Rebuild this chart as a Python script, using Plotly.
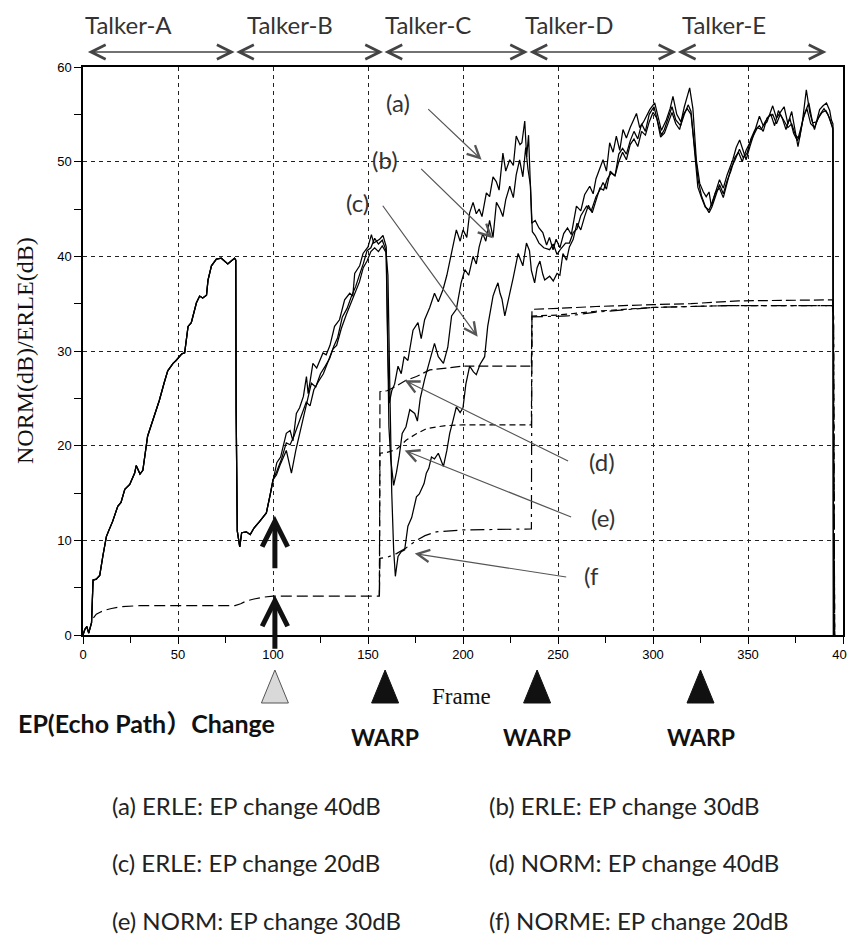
import plotly.graph_objects as go

# ERLE before the echo path change, shared by all three runs: (frame, dB)
erle_common = [(0, 0), (1, 0.6), (2, 0.9), (3, 0.2), (4.5, 1.3), (5.3, 5.8), (7, 5.9), (8.8, 6.3),
               (10.5, 8.4), (12.3, 10.4), (13.5, 11.0), (15.6, 12.0), (18.3, 13.6), (20, 14.0),
               (22, 15.4), (24.6, 15.9), (27.2, 17.1), (28, 17.9), (30, 17.0), (31.5, 17.4),
               (34, 21.0), (35.8, 22.1), (38.4, 23.9), (40.2, 24.8), (42.8, 26.7), (44.6, 27.9),
               (46, 28.3), (47.4, 28.7), (49, 29.0), (52, 29.7), (53.5, 29.8), (55.3, 32.6),
               (57, 33.0), (59.7, 35.1), (61.4, 35.8), (63, 35.6), (65, 35.9), (65.8, 37.5),
               (67.6, 39.0), (70.2, 39.7), (72.8, 39.8), (74.5, 39.5), (76.2, 39.2), (78, 39.5),
               (79.8, 39.8), (80.4, 39.6), (80.6, 23.8), (81.2, 11.0), (82.5, 9.3), (83.5, 10.8),
               (86, 10.9), (88, 10.6), (90, 11.3), (93, 12.0), (96.5, 12.9), (98.5, 14.8), (100, 16.4)]

# (a) ERLE, EP change 40dB
erle_a = [(102, 18.2), (104, 18.8), (107, 21.3), (109, 21.6), (110.5, 20.5), (112.3, 23.4), (114, 24.0),
          (116, 25.2), (117.6, 27.3), (118.5, 25.5), (121, 28.7), (123, 28.2), (126.3, 29.8), (128, 29.6),
          (130, 30.6), (132.4, 32.6), (135, 33.3), (137.7, 35.4), (140.4, 36.1), (142, 35.8), (143, 38.2),
          (145.6, 39.0), (147.4, 40.3), (150, 41.0), (151.8, 42.3), (153, 41.4), (154.4, 41.6),
          (156.1, 41.8), (157.9, 42.2), (159.6, 41.0), (160.4, 30.0), (161.2, 24.5), (162.5, 25.8),
          (164, 26.5), (165.8, 28.4), (167.5, 27.6), (169, 29.4), (171, 29.0), (173.7, 32.2),
          (176.3, 33.0), (178, 31.3), (179.8, 33.3), (182.5, 34.6), (185, 36.1), (187, 35.2),
          (189.5, 36.5), (191.5, 38.0), (193.9, 40.4), (196.5, 42.8), (198.5, 41.6), (200, 42.8),
          (202, 42.0), (203.5, 44.6), (205.3, 45.7), (207, 44.5), (208.5, 45.0), (210, 44.2),
          (212.3, 46.7), (214, 46.3), (215.8, 48.4), (217.5, 47.9), (219, 47.0), (221, 50.9),
          (222.5, 49.0), (224.6, 50.2), (226.5, 49.6), (228, 52.7), (230, 51.8), (231, 52.0),
          (232.5, 54.3), (233.5, 50.5), (234.5, 52.8), (235.3, 49.0), (236.2, 43.5), (238, 43.8),
          (240, 43.0), (242, 42.5), (244, 41.2), (245.5, 42.0), (247.4, 40.7), (249, 41.8),
          (251, 40.9), (253, 42.4), (255, 43.0), (257, 42.3), (259.7, 45.3), (262, 44.8), (264, 46.5),
          (266.7, 47.4), (268.5, 46.6), (270, 48.2), (272, 49.4), (273.7, 50.2), (275.5, 49.0),
          (277.2, 52.0), (279, 51.0), (280.7, 52.7), (282.5, 51.2), (284.2, 53.4), (286, 52.5),
          (288, 53.6), (291.3, 55.1), (293, 53.6), (295, 54.2), (298.3, 55.5), (300.9, 56.2),
          (302.5, 54.8), (304.4, 53.3), (307, 54.4), (309, 55.6), (310.5, 56.9), (312.5, 55.0),
          (314.7, 54.2), (316.5, 55.8), (319.3, 57.8), (321, 55.6), (322.8, 50.2), (324.6, 47.7),
          (326.5, 46.8), (328, 46.3), (329.5, 46.8), (330.7, 45.3), (332.5, 46.5), (334, 47.5),
          (335, 48.1), (337, 47.2), (339, 48.6), (342, 50.2), (343.8, 51.5), (345.6, 52.3),
          (347.5, 51.0), (349, 50.2), (351, 51.6), (353, 52.8), (356, 54.8), (358, 53.8), (360, 54.2),
          (363, 55.9), (365, 54.6), (367, 55.2), (369, 55.8), (371, 54.0), (373, 55.3), (376.3, 51.6),
          (378.5, 54.0), (380.7, 57.6), (382.5, 55.2), (385, 53.4), (386.5, 54.5), (387.7, 55.5),
          (389.5, 55.9), (391.3, 56.2), (393, 55.4), (393.9, 54.4), (394.7, 54.0), (395, 0)]

# (b) ERLE, EP change 30dB
erle_b = [(101.8, 16.9), (104, 18.1), (107, 19.5), (109.7, 17.1), (112, 19.5), (114, 21.2), (115.8, 22.6),
          (118, 24.6), (120.2, 26.6), (122.5, 26.2), (125, 27.6), (127.5, 28.4), (129.8, 29.2),
          (132, 30.5), (134, 31.4), (136.5, 33.6), (139, 34.5), (141.5, 35.9), (143.5, 36.8),
          (145.6, 38.1), (147.5, 39.2), (149.5, 40.6), (151.5, 40.9), (153.5, 41.9), (155.5, 41.3),
          (157.5, 41.7), (159.5, 40.6), (160.3, 32.0), (161, 22.0), (162, 18.5), (163.5, 15.8),
          (165, 17.2), (166.5, 19.0), (168, 21.3), (170, 22.0), (172, 23.8), (174.6, 23.4), (176, 22.6),
          (177.5, 25.0), (179.8, 27.0), (181.5, 28.2), (183.4, 29.4), (185, 30.8), (187, 29.4),
          (189.7, 28.7), (192, 30.4), (194, 33.7), (196.5, 34.4), (199, 37.2), (201, 38.6), (203, 38.0),
          (205.3, 40.0), (207, 39.2), (208.5, 41.0), (210.4, 42.4), (212, 41.6), (214, 43.8),
          (215.8, 42.0), (217.6, 45.7), (219.5, 45.0), (221, 44.2), (222.5, 46.0), (224.6, 47.4),
          (226.5, 46.2), (228, 48.6), (229.8, 50.2), (231.5, 48.4), (233, 51.5), (234.2, 49.2),
          (235.5, 47.5), (236.5, 42.6), (238, 42.2), (240, 41.4), (242.5, 40.9), (245.6, 40.7),
          (247.5, 41.3), (249.5, 40.2), (251.5, 40.8), (254, 41.4), (256, 41.4), (258, 42.5),
          (260, 42.9), (262, 44.3), (265, 45.3), (267.5, 44.8), (270, 46.3), (272, 47.0), (273.7, 47.8),
          (275.5, 47.1), (277.5, 49.0), (280, 48.5), (282, 50.8), (284, 51.4), (286, 50.8), (288, 52.2),
          (290, 53.2), (292, 52.4), (294, 54.0), (296, 53.2), (298, 55.0), (300.5, 55.8), (302.5, 54.2),
          (304.4, 52.8), (306, 53.4), (308, 54.7), (310, 55.8), (312, 54.4), (314.5, 53.8), (316.5, 55.0),
          (318.5, 56.0), (320, 55.3), (322, 50.8), (323.6, 47.3), (325.5, 46.2), (327.5, 45.2),
          (329.5, 44.9), (331, 45.6), (333, 46.8), (335, 47.2), (337, 46.2), (339, 47.8), (341, 49.3),
          (343, 50.1), (345.5, 51.3), (347.5, 50.4), (349.5, 50.9), (351.5, 52.4), (353.5, 53.3),
          (356, 53.8), (358, 53.2), (360, 54.6), (362, 55.0), (364, 53.8), (366, 55.4), (368, 54.6),
          (370, 53.4), (372, 54.6), (374, 53.0), (376, 52.2), (378, 53.8), (380, 55.2), (382, 56.2),
          (384, 54.1), (386, 54.2), (388, 55.0), (390, 55.6), (392, 55.0), (394, 53.9), (394.7, 53.6),
          (395, 0)]

# (c) ERLE, EP change 20dB
erle_c = [(102, 17.3), (104.5, 18.6), (107, 20.3), (109, 20.1), (111, 21.0), (113, 22.1), (115.5, 23.6),
          (117.5, 24.6), (119.5, 24.2), (121.5, 25.9), (124, 26.8), (126.5, 27.6), (129, 28.9),
          (131.5, 30.2), (133.5, 30.6), (136, 32.4), (138.5, 33.8), (141, 35.1), (143, 36.1),
          (145.5, 37.3), (147.5, 38.8), (149.5, 39.5), (151.5, 40.5), (153.5, 40.9), (155.5, 40.5),
          (157.5, 41.1), (159.5, 40.4), (160.5, 38.0), (161.5, 26.0), (162.5, 15.0), (163.5, 9.0),
          (164.4, 6.2), (165.8, 8.3), (167.5, 8.8), (169.3, 9.0), (171, 11.5), (173, 12.4), (175.5, 14.6),
          (177, 14.9), (178, 15.3), (179.5, 16.0), (180.7, 17.1), (182, 17.6), (183.4, 18.8), (185, 18.6),
          (187, 19.2), (188.5, 18.4), (189.7, 17.8), (191.5, 19.5), (193, 21.3), (194.8, 22.7),
          (196.5, 24.1), (198.5, 23.5), (200, 24.0), (201.5, 26.5), (203.5, 28.4), (205.5, 27.8),
          (207, 27.5), (209, 28.6), (211.4, 29.4), (213, 32.6), (214.5, 34.4), (215.8, 35.8), (217, 36.5),
          (218.4, 37.2), (219.5, 36.1), (220.5, 35.5), (222, 33.7), (223.5, 35.0), (224.6, 36.1),
          (226.5, 37.8), (229, 40.3), (230.5, 39.6), (231.5, 39.0), (233.4, 41.4), (235, 40.6), (236, 38.5),
          (237.7, 37.2), (239, 38.8), (240.5, 39.5), (242, 38.1), (243, 37.5), (245.6, 37.9), (247.5, 37.4),
          (249.5, 38.2), (251, 38.0), (252.6, 40.3), (254.5, 39.6), (256, 41.0), (258, 41.8), (260, 43.5),
          (262, 42.8), (264, 44.2), (266, 45.4), (268, 44.6), (270, 45.8), (272, 47.2), (274, 47.0),
          (276, 48.2), (278, 48.8), (280, 48.5), (282, 50.0), (284, 51.0), (286, 50.2), (288, 51.8),
          (290, 52.4), (292, 51.6), (294, 53.2), (296, 52.8), (298, 54.2), (300, 55.2), (302, 54.6),
          (304, 52.6), (306, 53.0), (308, 54.2), (310, 55.2), (312, 54.0), (314, 53.4), (316, 55.0),
          (318, 55.6), (320, 55.0), (322, 51.2), (323.8, 48.0), (325.5, 46.4), (327.5, 45.3),
          (329.5, 44.6), (331, 45.2), (333, 46.4), (335, 47.6), (337, 46.6), (339, 48.0), (341, 49.0),
          (343, 50.4), (345, 51.0), (347, 50.0), (349, 51.2), (351, 52.0), (353, 52.8), (355, 53.6),
          (357, 53.4), (359, 54.2), (361, 54.8), (363, 55.0), (365, 54.0), (367, 55.0), (369, 54.3),
          (371, 53.6), (373, 54.0), (375, 52.8), (377, 52.4), (379, 54.6), (381, 55.6), (383, 54.0),
          (385, 53.6), (387, 54.6), (389, 55.2), (391, 55.4), (393, 54.6), (394.7, 53.4), (395, 0)]

# NORM before the first WARP (shared), then the three branches
norm_common = [(5.5, 1.8), (7, 2.2), (9, 2.4), (11, 2.6), (15, 2.8), (20, 3.0), (30, 3.1), (45, 3.1),
               (60, 3.1), (70, 3.1), (80, 3.1), (83, 3.3), (86, 3.6), (90, 3.8), (95, 4.0), (100, 4.1),
               (120, 4.1), (140, 4.1), (156, 4.1)]
norm_d = [(156.3, 25.7), (160, 25.8), (165, 26.3), (170, 26.9), (175.5, 27.3), (182.5, 28.0), (190, 28.2),
          (200, 28.4), (236, 28.4), (236.3, 34.4), (250, 34.5), (270, 34.7), (300, 34.9), (320, 35.0),
          (345, 35.3), (394.5, 35.4), (395, 33.7), (395.6, 0)]
norm_e = [(156.3, 19.2), (160, 19.3), (165, 19.6), (170.2, 20.6), (175, 21.2), (180.7, 21.8), (190, 22.1),
          (200, 22.2), (236, 22.2), (236.3, 33.7), (250, 33.8), (270, 34.2), (300, 34.6), (340, 34.8),
          (394.5, 34.8), (395, 33.7), (395.6, 0)]
norm_f = [(156.3, 8.1), (160, 8.2), (165, 8.6), (170, 9.2), (175.5, 10.0), (180, 10.5), (186, 10.9),
          (200, 11.1), (236, 11.2), (236.3, 33.6), (255, 33.7), (270, 34.1), (300, 34.6), (340, 34.8),
          (394.5, 34.8), (395, 33.7), (395.6, 0)]

talker_names = ['Talker-A', 'Talker-B', 'Talker-C', 'Talker-D', 'Talker-E']
talker_bounds = [1.8, 79.8, 157.9, 234.2, 312.3, 391.3]
talker_label_x = [0, 85, 158, 231.5, 314]

ep_change_frame = 101
warp_frames = [159, 239, 325]

legend_lines = ['(a) ERLE: EP change 40dB', '(b) ERLE: EP change 30dB',
                '(c) ERLE: EP change 20dB', '(d) NORM: EP change 40dB',
                '(e) NORM: EP change 30dB', '(f) NORME: EP change 20dB']

CAL = 'Lato, "Open Sans", sans-serif'
SERIF = '"Liberation Serif", "DejaVu Serif", serif'
TXT = 24

fig = go.Figure()

# ERLE curves (solid)
for branch in [erle_c, erle_b, erle_a]:
    pts = erle_common + branch
    fig.add_trace(go.Scatter(
        x=[p[0] for p in pts], y=[p[1] for p in pts], mode='lines',
        line=dict(color='black', width=1.25), hoverinfo='skip'))

# NORM curves (dashed)
fig.add_trace(go.Scatter(
    x=[p[0] for p in norm_common], y=[p[1] for p in norm_common], mode='lines',
    line=dict(color='black', width=1.2, dash='11px,5px'), hoverinfo='skip'))
for branch, dash in [(norm_f, '14px,5px,3px,5px'), (norm_e, '6px,4px'), (norm_d, '10px,4px')]:
    pts = norm_common[-1:] + branch
    fig.add_trace(go.Scatter(
        x=[p[0] for p in pts], y=[p[1] for p in pts], mode='lines',
        line=dict(color='black', width=1.2, dash=dash), hoverinfo='skip'))

# talker spans above the plot
for i, name in enumerate(talker_names):
    fig.add_annotation(x=talker_bounds[i + 1], ax=talker_bounds[i], axref='x',
                       y=1.0264, yref='paper', ay=0, ayref='pixel', text='',
                       showarrow=True, arrowside='end+start', arrowhead=5, startarrowhead=5,
                       arrowsize=2.2, startarrowsize=2.2, arrowwidth=1.3, arrowcolor='#444')
    fig.add_annotation(x=talker_label_x[i], y=1.0745, yref='paper',
                       xanchor='left', yanchor='middle', text=name,
                       showarrow=False, font=dict(family=CAL, size=TXT, color='#333'))

# labelled arrows for the curves
curve_arrows = [
    ('(a)', 165.6, 56.3, 180.9, 55.7, 209.8, 50.2),
    ('(b)', 158.8, 50.2, 177.2, 49.4, 215.6, 41.9),
    ('(c)', 144.6, 45.7, 157.2, 45.5, 207.7, 31.5),
    ('(d)', 273.0, 18.3, 256.1, 18.3, 169.3, 26.9),
    ('(e)', 273.5, 12.4, 257.7, 12.4, 169.3, 19.5),
    ('(f', 267.7, 6.3, 255.1, 6.1, 174.6, 8.6),
]
for lab, tx, ty, ax, ay, hx, hy in curve_arrows:
    fig.add_annotation(x=hx, y=hy, ax=ax, ay=ay, axref='x', ayref='y', text='',
                       showarrow=True, arrowhead=5, arrowsize=2, arrowwidth=1.2, arrowcolor='#555')
    fig.add_annotation(x=tx, y=ty, text=lab, showarrow=False, yanchor='middle',
                       font=dict(family=CAL, size=TXT, color='#333'))

# thick arrows marking the echo path change
fig.add_annotation(x=ep_change_frame, y=12.6, ax=ep_change_frame, ay=6.9, axref='x', ayref='y',
                   text='', showarrow=True, arrowhead=5, arrowsize=1, arrowwidth=5, arrowcolor='#111')
fig.add_annotation(x=ep_change_frame, y=4.2, ax=ep_change_frame, ay=-1.6, axref='x', ayref='y',
                   text='', showarrow=True, arrowhead=5, arrowsize=1, arrowwidth=5, arrowcolor='#111')

# event triangles under the axis
tri = 'M-13.5,-68 L13.5,-68 L0,-35 Z'
fig.add_shape(type='path', path=tri, xref='x', yref='paper', xsizemode='pixel', ysizemode='pixel',
              xanchor=ep_change_frame, yanchor=0, fillcolor='#d9d9d9', line=dict(color='#555', width=1))
for wf in warp_frames:
    fig.add_shape(type='path', path=tri, xref='x', yref='paper', xsizemode='pixel', ysizemode='pixel',
                  xanchor=wf, yanchor=0, fillcolor='#111', line=dict(color='#111', width=1))
    fig.add_annotation(x=wf, y=-0.180, yref='paper', yanchor='middle', text='<b>WARP</b>',
                       showarrow=False, font=dict(family=CAL, size=23, color='#111'))

fig.add_annotation(x=-0.0882, y=-0.155, xref='paper', yref='paper', xanchor='left', yanchor='middle',
                   text='<b>EP(Echo Path）Change</b>', showarrow=False,
                   font=dict(family=CAL + ', "Noto Sans CJK SC"', size=25, color='#111'))
fig.add_annotation(x=199, y=-0.109, yref='paper', yanchor='middle', text='Frame', showarrow=False,
                   font=dict(family=SERIF, size=23, color='#111'))
fig.add_annotation(x=-0.0763, y=0.5, xref='paper', yref='paper', xanchor='center', yanchor='middle',
                   text='NORM(dB)/ERLE(dB)', textangle=-90, showarrow=False,
                   font=dict(family=SERIF, size=24, color='#111'))

# explanation lines
for i, line in enumerate(legend_lines):
    fig.add_annotation(x=0.0355 if i % 2 == 0 else 0.5316, y=-0.2993 - 0.1013 * (i // 2),
                       xref='paper', yref='paper', xanchor='left', yanchor='middle', text=line,
                       showarrow=False, font=dict(family=CAL, size=TXT, color='#222'))

axis_common = dict(
    showline=True, linecolor='black', linewidth=1.5, mirror=True, automargin=False,
    ticks='outside', ticklen=7, tickwidth=1.2, tickcolor='black',
    showgrid=True, gridcolor='#222', gridwidth=1, griddash='4px,4px',
    zeroline=False, tickfont=dict(family='"Liberation Sans", Arial', size=13, color='black'),
)
fig.update_xaxes(range=[0, 400], tick0=0, dtick=50,
                 minor=dict(dtick=25, ticks='outside', ticklen=6, tickcolor='black', showgrid=False),
                 **axis_common)
fig.update_yaxes(range=[0, 60], tick0=0, dtick=10,
                 minor=dict(dtick=5, ticks='outside', ticklen=7, tickcolor='black', showgrid=False),
                 **axis_common)

# the page body adds an 8px offset, so the margins are shifted to compensate
fig.update_layout(
    width=855, height=941,
    margin=dict(l=75, r=20, t=59, b=314),
    plot_bgcolor='white', paper_bgcolor='white',
    showlegend=False,
)

fig.write_html("out.html")
